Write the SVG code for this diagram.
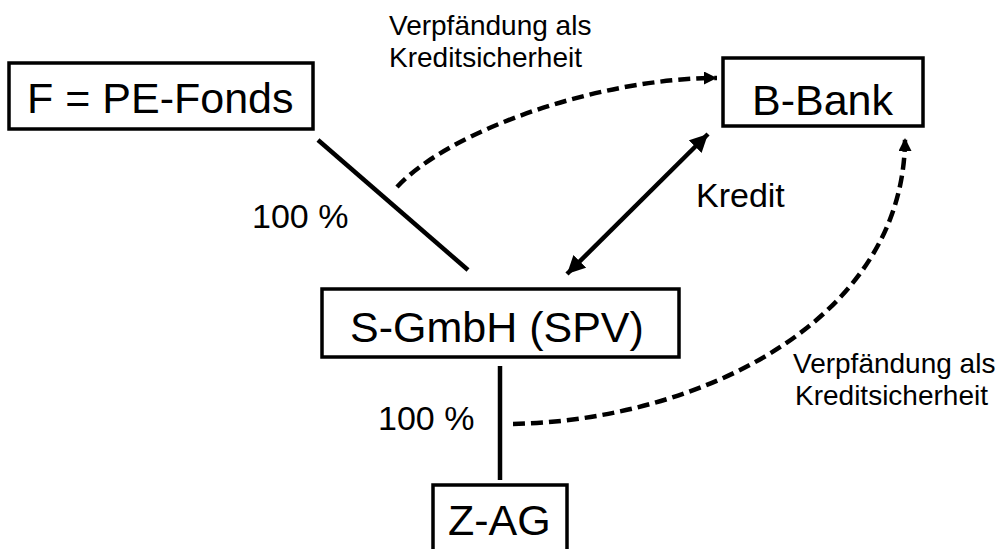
<svg xmlns="http://www.w3.org/2000/svg" width="1007" height="549" viewBox="0 0 1007 549">
<style>
.box{fill:#fff;stroke:#000;stroke-width:3.5}
.big{font-family:"Liberation Sans",Arial,sans-serif;font-size:43px;fill:#000}
.mid{font-family:"Liberation Sans",Arial,sans-serif;font-size:34px;fill:#000}
.sm{font-family:"Liberation Sans",Arial,sans-serif;font-size:28px;fill:#000}
.solid{stroke:#000;stroke-width:4.5;fill:none}
.dash{stroke:#000;stroke-width:4.5;fill:none;stroke-dasharray:12 6}
</style>
<defs>
<marker id="ah" markerUnits="userSpaceOnUse" markerWidth="20" markerHeight="20" refX="18" refY="9" orient="auto">
<path d="M0,0 L18,9 L0,18 Z" fill="#000"/>
</marker>
<marker id="ahs" markerUnits="userSpaceOnUse" markerWidth="20" markerHeight="20" refX="18" refY="9" orient="auto-start-reverse">
<path d="M0,0 L18,9 L0,18 Z" fill="#000"/>
</marker>
<marker id="dh" markerUnits="userSpaceOnUse" markerWidth="16" markerHeight="16" refX="13" refY="6.5" orient="auto">
<path d="M0,0 L13,6.5 L0,13 Z" fill="#000"/>
</marker>
</defs>
<g id="connectors">
<line class="solid" x1="318" y1="140" x2="468" y2="270"/>
<line class="solid" x1="500" y1="366" x2="500" y2="480"/>
<line class="solid" x1="567" y1="274" x2="708" y2="134" marker-start="url(#ahs)" marker-end="url(#ah)"/>
<path class="dash" d="M397,187 C450,130 600,78 717,78" marker-end="url(#dh)"/>
<path class="dash" d="M513,424 C700,420 905,320 905,138" marker-end="url(#dh)"/>
<text class="sm" x="389" y="35">Verpfändung als</text>
<text class="sm" x="389" y="67">Kreditsicherheit</text>
<text class="sm" x="793" y="373">Verpfändung als</text>
<text class="sm" x="795" y="405">Kreditsicherheit</text>
<text class="mid" x="696" y="207">Kredit</text>
<text class="mid" x="252" y="228">100 %</text>
<text class="mid" x="378" y="430">100 %</text>
</g>
<g id="node-f">
<rect class="box" x="9" y="63" width="304" height="66"/>
<text class="big" x="27" y="113">F = PE-Fonds</text>
</g>
<g id="node-b">
<rect class="box" x="723" y="58" width="200" height="68"/>
<text class="big" x="752" y="115">B-Bank</text>
</g>
<g id="node-s">
<rect class="box" x="322" y="289" width="357" height="68"/>
<text class="big" x="350" y="342">S-GmbH (SPV)</text>
</g>
<g id="node-z">
<rect class="box" x="433" y="485" width="134" height="80"/>
<text class="big" x="448" y="535">Z-AG</text>
</g>
</svg>
